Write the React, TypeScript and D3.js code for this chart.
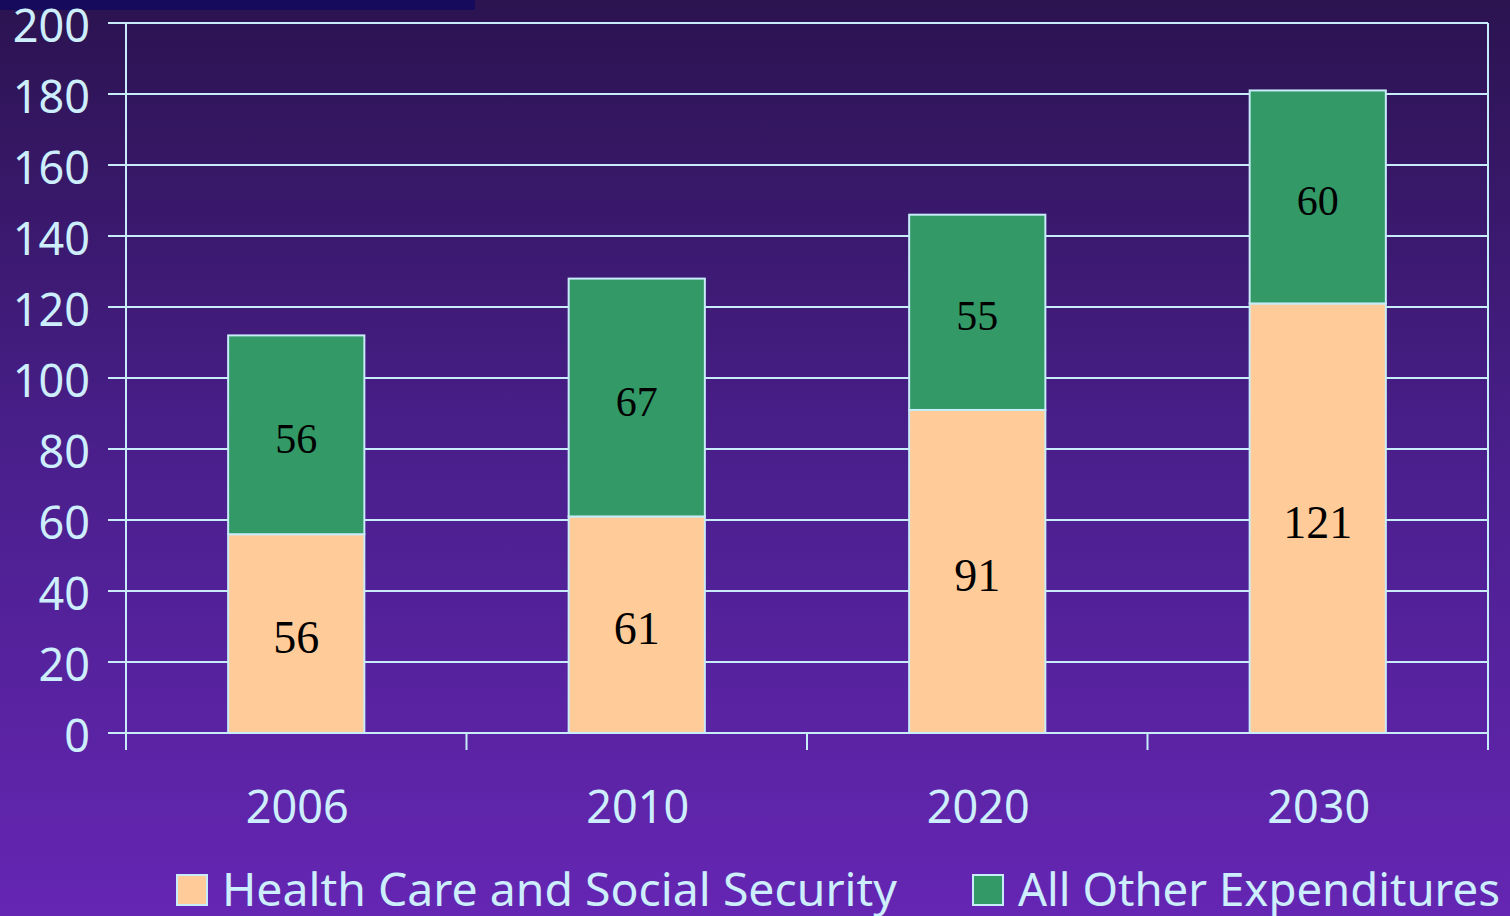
import React from "react";
import * as d3 from "d3";

const years = ["2006", "2010", "2020", "2030"];
const healthCare = [56, 61, 91, 121];
const otherExp = [56, 67, 55, 60];
const yTicks = [0, 20, 40, 60, 80, 100, 120, 140, 160, 180, 200];
const seriesNames = ["Health Care and Social Security", "All Other Expenditures"];

const W = 1510;
const H = 916;
const left = 126;
const right = 1488;
const top = 23;
const bottom = 733;

const lineColor = "#c8ecfa";
const textColor = "#cdeefc";
const orange = "#ffcc99";
const green = "#339966";

export default function App() {
  const x = d3.scaleBand<string>().domain(years).range([left, right]).paddingInner(0).paddingOuter(0);
  const y = d3.scaleLinear().domain([0, 200]).range([bottom, top]);
  const barW = x.bandwidth() * 0.4;
  const stack = years.map((yr, i) => ({ yr, h: healthCare[i], o: otherExp[i] }));
  const boundaries = d3.range(years.length + 1).map((i) => left + i * x.step());

  return (
    <svg width={W} height={H} style={{ position: "absolute", left: 0, top: 0, display: "block" }}>
      <defs>
        <linearGradient id="bg" x1="0" y1="0" x2="0" y2="1">
          <stop offset="0%" stopColor="#2b1350" />
          <stop offset="50%" stopColor="#4a1f8c" />
          <stop offset="100%" stopColor="#6526b3" />
        </linearGradient>
      </defs>
      <rect x={0} y={0} width={W} height={H} fill="url(#bg)" />
      <rect x={0} y={0} width={475} height={10} fill="#160a5c" />

      {yTicks.map((t) => (
        <g key={t}>
          <line x1={108} x2={right} y1={y(t)} y2={y(t)} stroke={lineColor} strokeWidth={2} />
          <text
            x={90}
            y={y(t) + 19}
            textAnchor="end"
            fontFamily="'Noto Sans', sans-serif"
            fontSize={45}
            fill={textColor}
          >
            {t}
          </text>
        </g>
      ))}
      <line x1={left} x2={left} y1={top} y2={750} stroke={lineColor} strokeWidth={2} />
      <line x1={right} x2={right} y1={top} y2={750} stroke={lineColor} strokeWidth={2} />
      {boundaries.map((b, i) => (
        <line key={i} x1={b} x2={b} y1={bottom} y2={750} stroke={lineColor} strokeWidth={2} />
      ))}

      {stack.map((d) => {
        const cx = (x(d.yr) as number) + x.bandwidth() / 2;
        const y0 = y(0);
        const y1 = y(d.h);
        const y2 = y(d.h + d.o);
        return (
          <g key={d.yr}>
            <rect x={cx - barW / 2} y={y1} width={barW} height={y0 - y1} fill={orange} stroke={lineColor} strokeWidth={2} />
            <rect x={cx - barW / 2} y={y2} width={barW} height={y1 - y2} fill={green} stroke={lineColor} strokeWidth={2} />
            <text
              x={cx}
              y={(y0 + y1) / 2 + 4}
              textAnchor="middle"
              dominantBaseline="central"
              fontFamily="'Liberation Serif', 'Times New Roman', serif"
              fontSize={46}
              fill="#000"
            >
              {d.h}
            </text>
            <text
              x={cx}
              y={(y1 + y2) / 2 + 4}
              textAnchor="middle"
              dominantBaseline="central"
              fontFamily="'Liberation Serif', 'Times New Roman', serif"
              fontSize={42}
              fill="#000"
            >
              {d.o}
            </text>
            <text
              x={cx + 1}
              y={823}
              textAnchor="middle"
              fontFamily="'Noto Sans', sans-serif"
              fontSize={45}
              fill={textColor}
            >
              {d.yr}
            </text>
          </g>
        );
      })}

      <rect x={177} y={875} width={30} height={30} fill={orange} stroke={lineColor} strokeWidth={2} />
      <text
        x={222}
        y={906}
        fontFamily="'Noto Sans', sans-serif"
        fontSize={46}
        fill={textColor}
        textLength={675}
        lengthAdjust="spacingAndGlyphs"
      >
        {seriesNames[0]}
      </text>
      <rect x={973} y={875} width={30} height={30} fill={green} stroke={lineColor} strokeWidth={2} />
      <text
        x={1018}
        y={906}
        fontFamily="'Noto Sans', sans-serif"
        fontSize={46}
        fill={textColor}
        textLength={482}
        lengthAdjust="spacingAndGlyphs"
      >
        {seriesNames[1]}
      </text>
    </svg>
  );
}
